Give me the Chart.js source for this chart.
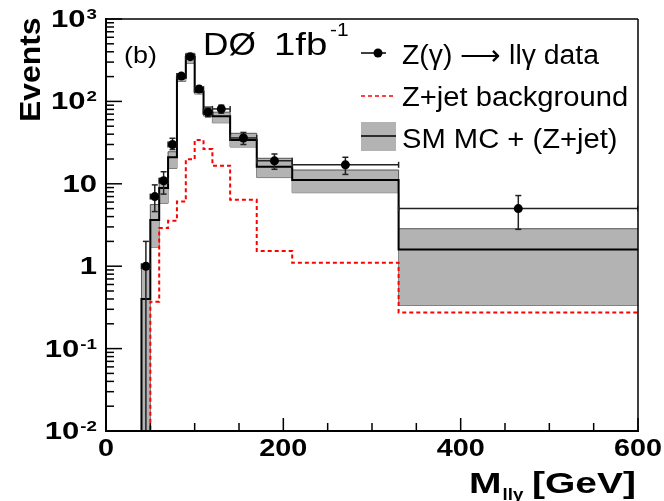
<!DOCTYPE html>
<html>
<head>
<meta charset="UTF-8">
<script src="https://cdn.jsdelivr.net/npm/chart.js@4.4.1/dist/chart.umd.min.js"></script>
<style>
  body { margin: 0; background: #fff; }
</style>
</head>
<body>
<canvas id="massChart" width="664" height="501"></canvas>
<script>
// bin edges of the M(llγ) histogram [GeV]
const binEdges = [40, 50, 60, 70, 80, 90, 100, 110, 120, 140, 170, 210, 330, 600];

// data points (centre, value, upper end and lower end of the error bar)
const dataMass = [45, 55, 65, 75, 85, 95, 105, 115, 130, 155, 190, 270, 465];
const dataCounts = [1.0, 7.0, 10.9, 30, 203, 349, 141, 74, 81, 36, 19, 17, 5.0];
const dataHigh = [2.0, 9.7, 14, 35.7, 217, 368, 153, 83, 90, 42, 23, 21, 7.2];
const dataLow = [0, 4.6, 7.5, 26, 189, 330, 129, 65, 72, 30, 15, 13, 2.8];

// SM MC + (Z+jet): central value and band
const mcTotal = [0.40, 3.64, 8.9, 21, 196, 345, 131, 72, 66, 34, 16.1, 11.1, 1.60];
const mcBandHigh = [1.0, 5.6, 11.7, 24.5, 218, 384, 137, 86, 74, 41, 20.4, 14.7, 2.85];
const mcBandLow = [0, 1.7, 5.8, 15.4, 175, 290, 123, 66.5, 55, 28, 11.9, 7.8, 0.335];

// Z+jet background
const zjetBkg = [0, 0.37, 2.9, 3.56, 6.1, 19.8, 34, 26.4, 16.6, 6.4, 1.53, 1.10, 0.275];

// axis ticks
const xTickValues = [0, 200, 400, 600];
const xTickLabels = ['0', '200', '400', '600'];
const yTickValues = [1000, 100, 10, 1, 0.1, 0.01];
const yTickLabels = ['10^3', '10^2', '10', '1', '10^-1', '10^-2'];

const FLOOR = 1e-4;
const FONT = '"Liberation Sans", Arial, Helvetica, sans-serif';

// histogram -> points for a stepped line ('before': flat at the old value, then up/down)
function steps(vals) {
  var pts = [{ x: binEdges[0], y: FLOOR }];
  vals.forEach(function (v, i) {
    pts.push({ x: binEdges[i], y: v > 0 ? v : FLOOR });
  });
  var last = vals[vals.length - 1];
  pts.push({ x: binEdges[binEdges.length - 1], y: last > 0 ? last : FLOOR });
  return pts;
}

function textW(ctx, s, size, bold, sx) {
  ctx.save();
  ctx.font = (bold ? 'bold ' : '') + size + 'px ' + FONT;
  var w = ctx.measureText(s).width * sx;
  ctx.restore();
  return w;
}

// text with a horizontal stretch, like the wide ROOT fonts
function drawText(ctx, s, x, y, size, bold, sx, align) {
  var w = textW(ctx, s, size, bold, sx);
  var x0 = align === 'right' ? x - w : (align === 'center' ? x - w / 2 : x);
  ctx.save();
  ctx.font = (bold ? 'bold ' : '') + size + 'px ' + FONT;
  ctx.textAlign = 'left';
  ctx.textBaseline = 'alphabetic';
  ctx.fillStyle = '#000';
  ctx.translate(x0, y);
  ctx.scale(sx, 1);
  ctx.fillText(s, 0, 0);
  ctx.restore();
  return w;
}

function seg(ctx, x1, y1, x2, y2) {
  ctx.beginPath();
  ctx.moveTo(x1, y1);
  ctx.lineTo(x2, y2);
  ctx.stroke();
}

function drawErrorBars(chart) {
  var ctx = chart.ctx, xs = chart.scales.x, ys = chart.scales.y, a = chart.chartArea;
  ctx.save();
  ctx.beginPath();
  ctx.rect(a.left, a.top, a.right - a.left, a.bottom - a.top);
  ctx.clip();
  ctx.strokeStyle = '#222';
  ctx.lineWidth = 1.5;
  dataCounts.forEach(function (v, i) {
    var px = xs.getPixelForValue(dataMass[i]);
    var py = ys.getPixelForValue(v);
    var pHi = ys.getPixelForValue(dataHigh[i]);
    var pLo = dataLow[i] > 0 ? ys.getPixelForValue(dataLow[i]) : a.bottom;
    var xl = xs.getPixelForValue(binEdges[i]);
    var xr = xs.getPixelForValue(binEdges[i + 1]);
    seg(ctx, px, pHi, px, pLo);
    seg(ctx, px - 3, pHi, px + 3, pHi);
    if (dataLow[i] > 0) seg(ctx, px - 3, pLo, px + 3, pLo);
    seg(ctx, xl, py, xr, py);
    seg(ctx, xl, py - 3, xl, py + 3);
    seg(ctx, xr, py - 3, xr, py + 3);
  });
  ctx.restore();
}

const decoPlugin = {
  id: 'deco',
  beforeDatasetDraw: function (chart, args) {
    if (args.index === 0) drawErrorBars(chart);
  },
  afterDraw: function (chart) {
    var ctx = chart.ctx, xs = chart.scales.x, ys = chart.scales.y, a = chart.chartArea;

    // frame
    ctx.save();
    ctx.strokeStyle = '#000';
    ctx.lineWidth = 1.5;
    seg(ctx, a.left, a.top, a.right, a.top);
    seg(ctx, a.right, a.top, a.right, a.bottom);
    ctx.lineWidth = 2;
    seg(ctx, a.left, a.top - 1, a.left, a.bottom + 1);
    seg(ctx, a.left - 1, a.bottom, a.right + 1, a.bottom);

    // y ticks (inside)
    ctx.lineWidth = 1.5;
    for (var e = -2; e <= 3; e++) {
      for (var m = 1; m <= 9; m++) {
        var v = m * Math.pow(10, e);
        if (v > 1000 || (e === 3 && m > 1)) continue;
        var y = ys.getPixelForValue(v);
        seg(ctx, a.left, y, a.left + (m === 1 ? 16 : 8), y);
      }
    }
    // x ticks (inside)
    for (var x = 0; x <= 600; x += 50) {
      var px = xs.getPixelForValue(x);
      seg(ctx, px, a.bottom, px, a.bottom - (x % 200 === 0 ? 13 : 8));
    }
    ctx.restore();

    // y tick labels
    yTickValues.forEach(function (v, i) {
      var y = ys.getPixelForValue(v);
      var parts = yTickLabels[i].split('^');
      var supW = parts[1] ? textW(ctx, parts[1], 15, true, 1.25) + 1 : 0;
      var baseW = textW(ctx, parts[0], 23, true, 1.35);
      drawText(ctx, parts[0], 97 - supW - baseW, y + 8, 23, true, 1.35, 'left');
      if (parts[1]) drawText(ctx, parts[1], 97 - supW + 1, y + 0, 15, true, 1.25, 'left');
    });

    // x tick labels
    xTickValues.forEach(function (v, i) {
      drawText(ctx, xTickLabels[i], xs.getPixelForValue(v), 456, 24, true, 1.2, 'center');
    });

    // axis titles
    ctx.save();
    ctx.translate(40, 122);
    ctx.rotate(-Math.PI / 2);
    drawText(ctx, 'Events', 0, 0, 29, true, 1.1, 'left');
    ctx.restore();

    var wM = drawText(ctx, 'M', 469, 493, 30, true, 1.3, 'left');
    drawText(ctx, 'll\u03b3', 469 + wM + 1, 500, 17, true, 1.1, 'left');
    drawText(ctx, '[GeV]', 636, 493, 30, true, 1.3, 'right');

    // labels inside the frame
    drawText(ctx, '(b)', 124, 63, 24, false, 1.12, 'left');
    drawText(ctx, 'D\u00d8', 203, 55, 32, false, 1.1, 'left');
    drawText(ctx, '1fb', 274, 55, 32, false, 1.2, 'left');
    drawText(ctx, '-1', 330, 36, 19, false, 1.1, 'left');

    // legend
    ctx.save();
    ctx.strokeStyle = '#000';
    ctx.lineWidth = 1.5;
    seg(ctx, 361, 53, 386, 53);
    ctx.fillStyle = '#000';
    ctx.beginPath();
    ctx.arc(378, 53, 4.5, 0, Math.PI * 2);
    ctx.fill();

    ctx.strokeStyle = '#ff0000';
    ctx.lineWidth = 1.5;
    ctx.setLineDash([4, 3]);
    seg(ctx, 361, 96, 395, 96);
    ctx.setLineDash([]);

    ctx.fillStyle = '#b3b3b3';
    ctx.fillRect(361, 122, 35, 29);
    ctx.strokeStyle = '#000';
    ctx.lineWidth = 1.5;
    seg(ctx, 361, 136, 396, 136);
    ctx.restore();

    drawText(ctx, 'Z(\u03b3) \u27f6 ll\u03b3 data', 402, 64, 27, false, 1.05, 'left');
    drawText(ctx, 'Z+jet background', 402, 106, 27, false, 1.08, 'left');
    drawText(ctx, 'SM MC + (Z+jet)', 402, 148, 27, false, 1.08, 'left');
  }
};

new Chart(document.getElementById('massChart'), {
  type: 'line',
  data: {
    datasets: [
      {
        label: 'Z(\u03b3) \u2192 ll\u03b3 data',
        data: dataMass.map(function (m, i) { return { x: m, y: dataCounts[i] }; }),
        showLine: false,
        pointRadius: 4.5,
        pointBackgroundColor: '#000',
        pointBorderColor: '#000',
        pointBorderWidth: 0
      },
      {
        label: 'Z+jet background',
        data: steps(zjetBkg),
        stepped: 'before',
        borderColor: '#ff0000',
        borderWidth: 2,
        borderDash: [4, 3],
        pointRadius: 0,
        fill: false
      },
      {
        label: 'SM MC + (Z+jet)',
        data: steps(mcTotal),
        stepped: 'before',
        borderColor: '#000',
        borderWidth: 2,
        pointRadius: 0,
        fill: false
      },
      {
        label: 'band high',
        data: steps(mcBandHigh),
        stepped: 'before',
        borderColor: '#555',
        borderWidth: 1,
        backgroundColor: '#b3b3b3',
        pointRadius: 0,
        fill: '+1'
      },
      {
        label: 'band low',
        data: steps(mcBandLow),
        stepped: 'before',
        borderColor: '#555',
        borderWidth: 1,
        pointRadius: 0,
        fill: false
      }
    ]
  },
  options: {
    responsive: false,
    animation: false,
    events: [],
    layout: { padding: { left: 106, top: 19, right: 26, bottom: 70 } },
    scales: {
      x: { type: 'linear', min: 0, max: 600, display: false },
      y: { type: 'logarithmic', min: 0.01, max: 1000, display: false }
    },
    plugins: {
      legend: { display: false },
      tooltip: { enabled: false }
    }
  },
  plugins: [decoPlugin]
});
</script>
</body>
</html>
